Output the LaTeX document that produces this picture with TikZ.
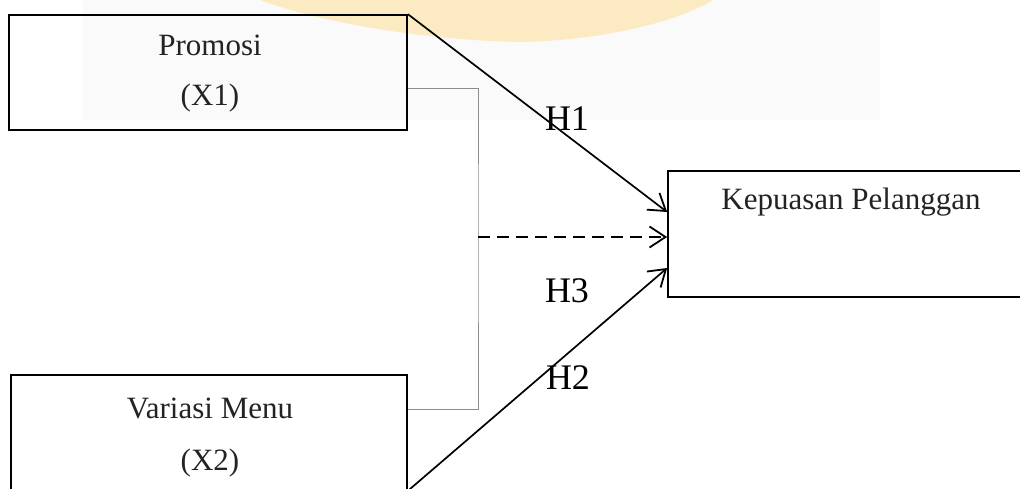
\documentclass[tikz,border=0pt]{standalone}
\usepackage{fontspec}
\setmainfont{Liberation Serif}
\usetikzlibrary{arrows.meta}
\definecolor{wmyellow}{RGB}{252,235,194}
\definecolor{wmgray}{RGB}{250,250,250}
\definecolor{boxtext}{RGB}{35,35,35}
\definecolor{linkgray}{RGB}{140,140,140}
\begin{document}
\begin{tikzpicture}[x=1pt,y=1pt,
  varbox/.style={draw=black, line width=1.7pt, inner sep=0pt},
  boxlabel/.style={text=boxtext, font=\fontsize{31}{36}\selectfont, inner sep=0pt},
  path/.style={draw=black, line width=1.7pt,
    -{Straight Barb[length=16pt,width=21pt,line width=1.8pt]}},
  dpath/.style={path, dash pattern=on 12pt off 7pt},
  link/.style={draw=linkgray, line width=1pt},
  hyp/.style={font=\fontsize{36}{36}\selectfont, text=black, inner sep=0pt}]
\useasboundingbox (0,0) rectangle (1020,-488);

% faint watermark behind the diagram
\fill[wmgray] (83,0) rectangle (880,-120);
\fill[wmyellow] (260,0) .. controls (320,-22) and (420,-40) .. (520,-42)
  .. controls (610,-40) and (680,-20) .. (713,0) -- cycle;

% variables
\node[varbox, minimum width=398pt, minimum height=115pt] (p) at (208,-72.5) {};
\node[boxlabel] (pt1) at (210,-45) {Promosi};
\node[boxlabel] (pt2) at (210,-98) {(X1)};

\node[varbox, minimum width=396pt, minimum height=115pt] (v) at (209,-432.5) {};
\node[boxlabel] (vt1) at (210,-408) {Variasi Menu};
\node[boxlabel] (vt2) at (210,-463) {(X2)};

\node[varbox, minimum width=357pt, minimum height=126pt] (kp) at (846.5,-234) {};
\node[boxlabel] (kpt) at (851,-202) {Kepuasan Pelanggan};

% joint path of both variables
\coordinate (j) at (478,-237);
\draw[link] ([yshift=-15.5pt]p.east) -| (j) |- ([yshift=23.5pt]v.east);

% hypothesis arrows
\draw[path] (p.north east) -- ([yshift=22pt]kp.west);
\draw[dpath] (j) -- ([yshift=-3pt]kp.west);
\draw[path] (v.south east) -- ([yshift=-34pt]kp.west);

\node[hyp] (h1) at (567,-119) {H1};
\node[hyp] (h3) at (567,-291) {H3};
\node[hyp] (h2) at (568,-378) {H2};
\end{tikzpicture}
\end{document}
